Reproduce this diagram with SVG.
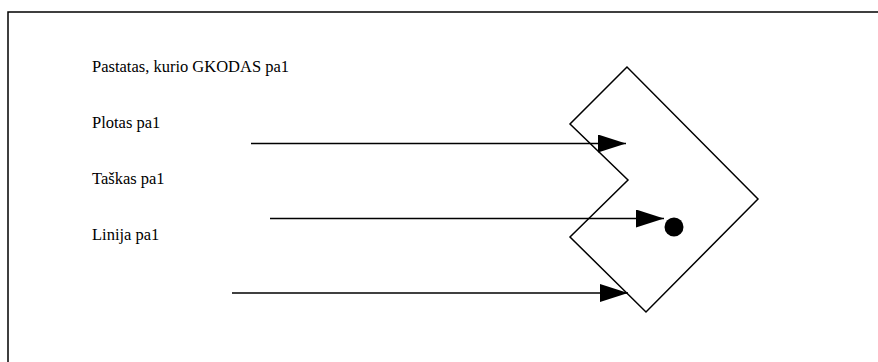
<svg xmlns="http://www.w3.org/2000/svg" width="878" height="362" viewBox="0 0 878 362">
<style>
.t{font-family:"Liberation Serif","Times New Roman",serif;font-size:16.5px;fill:#000}
.ln{stroke:#000;stroke-width:1.5;fill:none}
</style>
<defs>
<marker id="ah" markerWidth="28" markerHeight="18" refX="28" refY="9" orient="auto" markerUnits="userSpaceOnUse">
<path d="M0,0 L28,9 L0,18 Z" fill="#000"/>
</marker>
</defs>
<rect width="878" height="362" fill="#fff"/>
<path d="M8,362 L8,12 L878,12" class="ln" stroke-width="2"/>
<g id="labels">
<text class="t" x="92" y="72">Pastatas, kurio GKODAS pa1</text>
<text class="t" x="92" y="128">Plotas pa1</text>
<text class="t" x="92" y="184">Taškas pa1</text>
<text class="t" x="92" y="240">Linija pa1</text>
</g>
<g id="shape">
<polygon points="627,67 570,124 628,180 570,237 646,312 758,199" class="ln"/>
<circle cx="674" cy="227" r="9.5" fill="#000"/>
</g>
<g id="connectors">
<line x1="251" y1="143.5" x2="626" y2="143.5" class="ln" marker-end="url(#ah)"/>
<line x1="270" y1="218.5" x2="664" y2="218.5" class="ln" marker-end="url(#ah)"/>
<line x1="232" y1="293" x2="628" y2="293" class="ln" marker-end="url(#ah)"/>
</g>
</svg>
